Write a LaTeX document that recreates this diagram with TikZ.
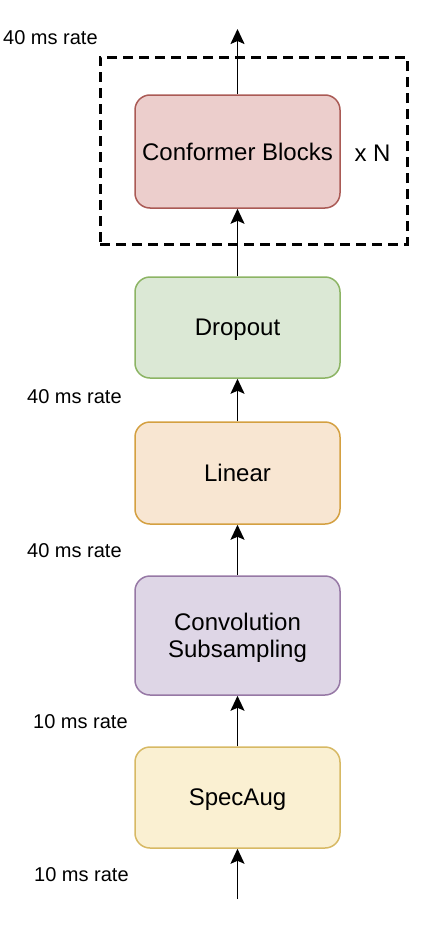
\documentclass[tikz,border=0pt]{standalone}
\usepackage{fontspec}
\setmainfont{Liberation Sans}
\usetikzlibrary{arrows.meta}
\definecolor{redF}{RGB}{236,206,204}
\definecolor{redD}{RGB}{170,90,85}
\definecolor{grnF}{RGB}{219,232,213}
\definecolor{grnD}{RGB}{140,180,100}
\definecolor{orgF}{RGB}{248,230,210}
\definecolor{orgD}{RGB}{212,160,65}
\definecolor{purF}{RGB}{222,214,230}
\definecolor{purD}{RGB}{150,120,165}
\definecolor{yelF}{RGB}{250,240,210}
\definecolor{yelD}{RGB}{215,185,100}
\begin{document}
\begin{tikzpicture}[x=1pt,y=-1pt,
  blockbox/.style={rectangle, rounded corners=15pt, minimum width=205pt, inner sep=0pt, line width=1.5pt, align=center, font=\fontsize{24}{27}\selectfont, text depth=0pt},
  ratelabel/.style={anchor=west, inner sep=0pt, font=\fontsize{20}{24}\selectfont},
  flow/.style={line width=1.8pt, -{Stealth[length=15pt,width=14pt,inset=3pt]}}]
\useasboundingbox (0,0) rectangle (428,926);
\node[draw, dashed, line width=3pt, dash pattern=on 10pt off 6pt, minimum width=307pt, minimum height=187pt, inner sep=0pt] (rep) at (253.5,150.5) {};
\node[blockbox, fill=redF, draw=redD, minimum height=113pt] (conf) at (237.5,151.5) {Conformer Blocks};
\node[blockbox, fill=grnF, draw=grnD, minimum height=101pt] (drop) at (237.5,327.5) {Dropout};
\node[blockbox, fill=orgF, draw=orgD, minimum height=102pt] (lin) at (237.5,473) {Linear};
\node[blockbox, fill=purF, draw=purD, minimum height=119pt] (conv) at (237.5,635.5) {Convolution\\Subsampling};
\node[blockbox, fill=yelF, draw=yelD, minimum height=101pt] (spec) at (237.5,797.5) {SpecAug};
\node[font=\fontsize{24}{27}\selectfont, inner sep=0pt] (xn) at (372.5,153) {x N};
\coordinate (top) at (237.5,29);
\coordinate (bot) at (237.5,899);
\draw[flow] (conf.north) -- (top);
\draw[flow] (drop.north) -- (conf.south);
\draw[flow] (lin.north) -- (drop.south);
\draw[flow] (conv.north) -- (lin.south);
\draw[flow] (spec.north) -- (conv.south);
\draw[flow] (bot) -- (spec.south);
\node[ratelabel] (r1) at (3,38) {40 ms rate};
\node[ratelabel] (r2) at (27,397) {40 ms rate};
\node[ratelabel] (r3) at (27,551) {40 ms rate};
\node[ratelabel] (r4) at (33,722) {10 ms rate};
\node[ratelabel] (r5) at (34,875) {10 ms rate};
\end{tikzpicture}
\end{document}
